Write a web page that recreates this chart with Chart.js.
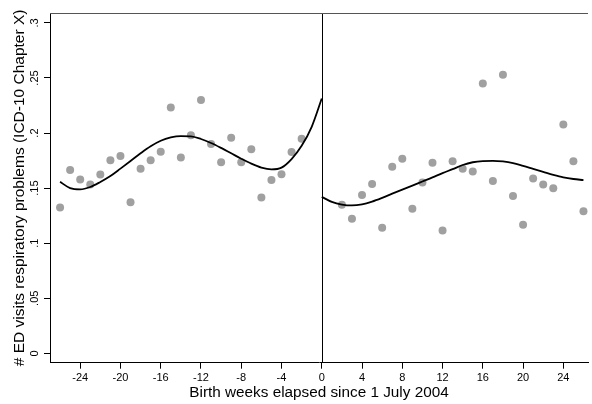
<!DOCTYPE html>
<html>
<head>
<meta charset="utf-8">
<script src="https://cdn.jsdelivr.net/npm/chart.js@4.4.1/dist/chart.umd.min.js"></script>
<style>
  html, body { margin: 0; padding: 0; background: #fff; }
  canvas { display: block; }
</style>
</head>
<body>
<canvas id="chart_1" width="592" height="404"></canvas>
<script>
// Weekly ED visit rates, before and after the 1 July 2004 cutoff
var weeksBefore = [-26, -25, -24, -23, -22, -21, -20, -19, -18, -17, -16, -15, -14,
  -13, -12, -11, -10, -9, -8, -7, -6, -5, -4, -3, -2];
var ratesBefore = [0.1325, 0.1664, 0.1579, 0.1534, 0.1624, 0.1754, 0.1791, 0.1371,
  0.1676, 0.1752, 0.1830, 0.2233, 0.1779, 0.1981, 0.2299, 0.1900, 0.1736, 0.1957,
  0.1734, 0.1854, 0.1416, 0.1573, 0.1627, 0.1827, 0.1948];

var weeksAfter = [2, 3, 4, 5, 6, 7, 8, 9, 10, 11, 12, 13, 14, 15, 16, 17, 18, 19,
  20, 21, 22, 23, 24, 25, 26];
var ratesAfter = [0.1349, 0.1222, 0.1437, 0.1537, 0.1140, 0.1694, 0.1766, 0.1313,
  0.1552, 0.1730, 0.1116, 0.1745, 0.1676, 0.1652, 0.2450, 0.1564, 0.2529, 0.1428,
  0.1167, 0.1588, 0.1534, 0.1498, 0.2078, 0.1745, 0.1289];

// Polynomial fit on each side of the cutoff
var fitWeeksBefore = [-26, -25, -24, -23, -22, -21, -20, -19, -18, -17, -16, -15,
  -14, -13, -12, -11, -10, -9, -8, -7, -6, -5, -4, -3, -2, -1, 0];
var fitBefore = [0.1557, 0.1500, 0.1488, 0.1510, 0.1556, 0.1610, 0.1677, 0.1746,
  0.1816, 0.1880, 0.1930, 0.1960, 0.1972, 0.1970, 0.1946, 0.1910, 0.1865, 0.1816,
  0.1767, 0.1722, 0.1686, 0.1670, 0.1686, 0.1764, 0.1884, 0.2057, 0.2314];

var fitWeeksAfter = [0, 1, 2, 3, 4, 5, 6, 7, 8, 9, 10, 11, 12, 13, 14, 15, 16, 17,
  18, 19, 20, 21, 22, 23, 24, 25, 26];
var fitAfter = [0.1421, 0.1375, 0.1351, 0.1343, 0.1353, 0.1378, 0.1412, 0.1450,
  0.1487, 0.1523, 0.1560, 0.1597, 0.1636, 0.1672, 0.1710, 0.1735, 0.1746, 0.1748,
  0.1742, 0.1727, 0.1702, 0.1675, 0.1648, 0.1621, 0.1598, 0.1583, 0.1573];

var cutoffWeek = 0;

var xTicks = [-24, -20, -16, -12, -8, -4, 0, 4, 8, 12, 16, 20, 24];
var yTicks = [0, 0.05, 0.1, 0.15, 0.2, 0.25, 0.3];
var yTickLabels = ["0", ".05", ".1", ".15", ".2", ".25", ".3"];

function toPoints(xs, ys) {
  return xs.map(function (x, i) {
    return { x: x, y: ys[i] };
  });
}

var fontFamily = "'Liberation Sans', Arial, sans-serif";

const ctxval1 = document.getElementById("chart_1");

var fitStyle = {
  type: "line",
  showLine: true,
  borderColor: "#000",
  borderWidth: 1.8,
  pointRadius: 0,
  cubicInterpolationMode: "monotone",
  fill: false,
};

var dotStyle = {
  backgroundColor: "#a0a0a0",
  borderWidth: 0,
  pointRadius: 4,
  pointHoverRadius: 4,
};

var myChart1 = new Chart(ctxval1, {
  type: "scatter",
  data: {
    datasets: [
      Object.assign({ label: "Fit before", data: toPoints(fitWeeksBefore, fitBefore) }, fitStyle),
      Object.assign({ label: "Fit after", data: toPoints(fitWeeksAfter, fitAfter) }, fitStyle),
      Object.assign({ label: "Before", data: toPoints(weeksBefore, ratesBefore) }, dotStyle),
      Object.assign({ label: "After", data: toPoints(weeksAfter, ratesAfter) }, dotStyle),
    ],
  },
  options: {
    responsive: false,
    animation: false,
    layout: { padding: { top: 13, right: 0, left: 0, bottom: 0 } },
    plugins: {
      legend: { display: false },
      tooltip: { enabled: false },
    },
    scales: {
      x: {
        type: "linear",
        min: -27,
        max: 26.45,
        afterBuildTicks: function (scale) {
          scale.ticks = xTicks.map(function (v) { return { value: v }; });
        },
        afterFit: function (scale) {
          scale.height = 41.3;
        },
        grid: { drawOnChartArea: false, drawTicks: true, tickLength: 6, color: "#000" },
        border: { display: true, color: "#000", width: 1 },
        ticks: {
          color: "#000",
          padding: 2.5,
          maxRotation: 0,
          autoSkip: false,
          font: { family: fontFamily, size: 11 },
          callback: function (value) { return String(value); },
        },
        title: {
          display: true,
          text: "Birth weeks elapsed since 1 July 2004",
          color: "#000",
          padding: { top: 0, bottom: 2.5 },
          font: { family: fontFamily, size: 15.3 },
        },
      },
      y: {
        min: -0.0085,
        max: 0.309,
        afterBuildTicks: function (scale) {
          scale.ticks = yTicks.map(function (v) { return { value: v }; });
        },
        afterFit: function (scale) {
          scale.width = 50;
        },
        grid: { drawOnChartArea: false, drawTicks: true, tickLength: 6, color: "#000" },
        border: { display: true, color: "#000", width: 1 },
        ticks: {
          color: "#000",
          padding: 1.5,
          minRotation: 90,
          maxRotation: 90,
          crossAlign: "center",
          autoSkip: false,
          font: { family: fontFamily, size: 11 },
          callback: function (value, index) { return yTickLabels[index]; },
        },
        title: {
          display: true,
          text: "# ED visits respiratory problems (ICD-10 Chapter X)",
          color: "#000",
          padding: { top: 10, bottom: 0 },
          font: { family: fontFamily, size: 15.5 },
        },
      },
    },
  },
  plugins: [
    {
      // top frame line and the cutoff line at week 0
      id: "frameAndCutoff",
      afterDatasetsDraw: function (chart) {
        const ctx = chart.ctx;
        const area = chart.chartArea;
        const xc = chart.scales.x.getPixelForValue(cutoffWeek);
        ctx.save();
        ctx.strokeStyle = "#000";
        ctx.lineWidth = 1;
        ctx.beginPath();
        ctx.moveTo(Math.round(xc) + 0.5, area.top);
        ctx.lineTo(Math.round(xc) + 0.5, area.bottom);
        ctx.stroke();
        ctx.strokeStyle = "#555";
        ctx.beginPath();
        ctx.moveTo(area.left, Math.round(area.top) + 0.5);
        ctx.lineTo(area.right, Math.round(area.top) + 0.5);
        ctx.stroke();
        ctx.restore();
      },
    },
  ],
});
</script>
</body>
</html>
